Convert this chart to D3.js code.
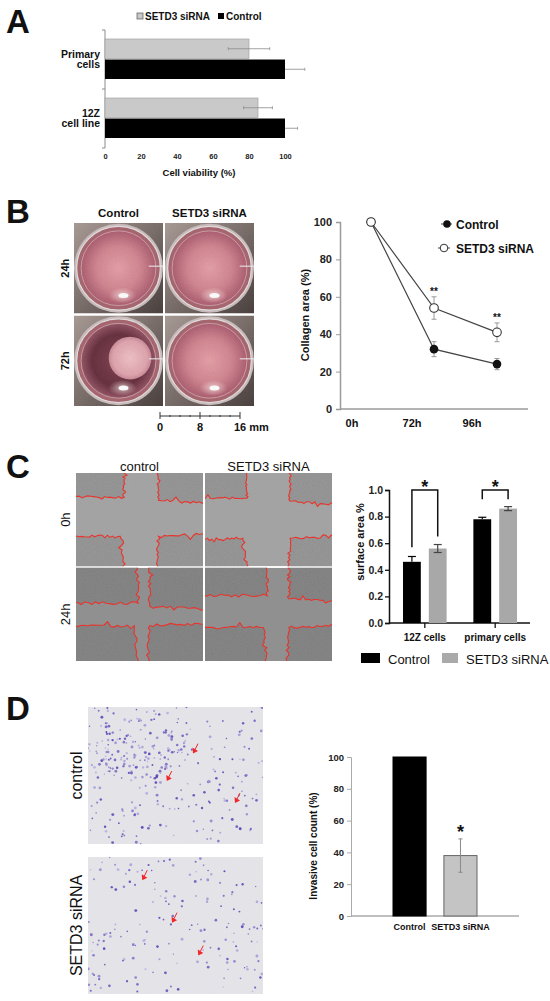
<!DOCTYPE html>
<html>
<head>
<meta charset="utf-8">
<script src="https://cdn.jsdelivr.net/npm/d3@7"></script>
<style>
  body { margin: 0; background: #fff; }
  svg { display: block; }
  text { font-family: "Liberation Sans", Arial, sans-serif; }
</style>
</head>
<body>
<div id="fig"></div>
<script>
// ---- Panel A: cell viability
const viabilityGroups = ["Primary cells", "12Z cell line"];
const viabilitySeries = ["SETD3 siRNA", "Control"];
const viabilitySirna = [80, 85];
const viabilitySirnaErr = [11.5, 8];
const viabilityControl = [100, 100];
const viabilityControlErr = [11, 7];
const viabilityTicks = [0, 20, 40, 60, 80, 100];

// ---- Panel B: collagen contraction
const photoColsB = ["Control", "SETD3 siRNA"];
const photoRowsB = ["24h", "72h"];
const collagenTimes = ["0h", "72h", "96h"];
const collagenControl = [100, 32, 24];
const collagenControlErr = [0, 4, 3];
const collagenSirna = [100, 54, 41];
const collagenSirnaErr = [0, 6, 5];
const collagenSig = ["", "**", "**"];
const collagenTicks = [0, 20, 40, 60, 80, 100];
const scaleBarTicks = [0, 2, 4, 6, 8, 10, 12, 14, 16];

// ---- Panel C: wound healing
const photoColsC = ["control", "SETD3 siRNA"];
const photoRowsC = ["0h", "24h"];
const surfaceGroups = ["12Z cells", "primary cells"];
const surfaceSeries = ["Control", "SETD3 siRNA"];
const surfaceControl = [0.46, 0.78];
const surfaceControlErr = [0.04, 0.015];
const surfaceSirna = [0.56, 0.86];
const surfaceSirnaErr = [0.03, 0.015];
const surfaceTicks = [0, 0.2, 0.4, 0.6, 0.8, 1.0];
const surfaceBracketLegs = [[0.57, 0.65], [0.93, 0.93]];

// ---- Panel D: invasion
const photoRowsD = ["control", "SETD3 siRNA"];
const invasionGroups = ["Control", "SETD3 siRNA"];
const invasionValues = [100, 38];
const invasionErr = [0, 10.5];
const invasionTicks = [0, 20, 40, 60, 80, 100];

const svg = d3.select("#fig").append("svg").attr("width", 550).attr("height", 1001);
const defs = svg.append("defs");

function rng(seed) {
  let s = seed >>> 0;
  return () => {
    s = (Math.imul(s, 1664525) + 1013904223) >>> 0;
    return s / 4294967296;
  };
}

function txt(g, x, y, s, size, weight = "bold", anchor = "start", fill = "#111") {
  return g.append("text")
    .attr("x", x).attr("y", y)
    .attr("font-size", size).attr("font-weight", weight)
    .attr("text-anchor", anchor).attr("fill", fill)
    .text(s);
}

function vtxt(g, x, y, s, size, weight = "bold") {
  return g.append("text")
    .attr("transform", `translate(${x},${y}) rotate(-90)`)
    .attr("font-size", size).attr("font-weight", weight)
    .attr("text-anchor", "middle").attr("fill", "#111")
    .text(s);
}

function styleAxis(g, color, size, weight = "bold") {
  g.select(".domain").attr("stroke", color);
  g.selectAll(".tick line").attr("stroke", color);
  g.selectAll(".tick text")
    .attr("font-size", size).attr("font-weight", weight)
    .attr("fill", "#222").attr("font-family", "'Liberation Sans', Arial, sans-serif");
}

// panel letters
[["A", 33], ["B", 223], ["C", 478], ["D", 720]].forEach(([l, y]) => txt(svg, 6, y, l, 33));

// noise filter for photo texture
const noise = defs.append("filter").attr("id", "noise")
  .attr("x", "0%").attr("y", "0%").attr("width", "100%").attr("height", "100%");
noise.append("feTurbulence").attr("type", "fractalNoise")
  .attr("baseFrequency", 0.9).attr("numOctaves", 3).attr("seed", 7);
noise.append("feColorMatrix").attr("type", "matrix")
  .attr("values", "0.33 0.33 0.33 0 0  0.33 0.33 0.33 0 0  0.33 0.33 0.33 0 0  0 0 0 0 0.4");
noise.append("feComposite").attr("in2", "SourceGraphic").attr("operator", "in");

// ================= Panel A =================
{
  const g = svg.append("g");
  const x = d3.scaleLinear().domain([0, 100]).range([105, 285]);
  const y = d3.scaleBand().domain(viabilityGroups).range([30, 148]);
  const yi = d3.scaleBand().domain(viabilitySeries).range([9, 49]).paddingInner(0.05);
  const bh = yi.bandwidth();

  g.append("line").attr("x1", 105).attr("x2", 105).attr("y1", 30).attr("y2", 148)
    .attr("stroke", "#8c8c8c");
  [...viabilityGroups.map((d) => y(d)), 148].forEach((ty) =>
    g.append("line").attr("x1", 102).attr("x2", 105).attr("y1", ty).attr("y2", ty).attr("stroke", "#8c8c8c"));

  const xa = g.append("g").attr("transform", "translate(0,150)")
    .call(d3.axisBottom(x).tickValues(viabilityTicks).tickSize(0).tickPadding(4));
  xa.select(".domain").remove();
  styleAxis(xa, "#888", 7.5);

  const errBar = (v, e, cy) => {
    g.append("line").attr("x1", x(v - e)).attr("x2", x(Math.min(v + e, 120)))
      .attr("y1", cy).attr("y2", cy).attr("stroke", "#8a8a8a").attr("stroke-width", 0.8);
    [v - e, v + e].forEach((t) =>
      g.append("line").attr("x1", x(t)).attr("x2", x(t)).attr("y1", cy - 1.5).attr("y2", cy + 1.5)
        .attr("stroke", "#8a8a8a").attr("stroke-width", 0.8));
  };

  viabilityGroups.forEach((grp, i) => {
    const ys = y(grp) + yi("SETD3 siRNA");
    const yc = y(grp) + yi("Control");
    g.append("rect").attr("x", x(0)).attr("y", ys).attr("width", x(viabilitySirna[i]) - x(0))
      .attr("height", bh).attr("fill", "#c9c9c9").attr("stroke", "#9a9a9a").attr("stroke-width", 0.6);
    errBar(viabilitySirna[i], viabilitySirnaErr[i], ys + bh / 2);
    errBar(viabilityControl[i], viabilityControlErr[i], yc + bh / 2);
    g.append("rect").attr("x", x(0)).attr("y", yc).attr("width", x(viabilityControl[i]) - x(0))
      .attr("height", bh).attr("fill", "#000");
    const k = grp.indexOf(" ");
    txt(g, 100, y(grp) + 27.5, grp.slice(0, k), 10.5, "bold", "end");
    txt(g, 100, y(grp) + 38, grp.slice(k + 1), 10.5, "bold", "end");
  });

  txt(g, 199, 175.5, "Cell viability (%)", 9.5, "bold", "middle");

  g.append("rect").attr("x", 137).attr("y", 13).attr("width", 6).attr("height", 6)
    .attr("fill", "#c9c9c9").attr("stroke", "#555").attr("stroke-width", 0.7);
  txt(g, 145, 19.5, viabilitySeries[0], 10);
  g.append("rect").attr("x", 218).attr("y", 13).attr("width", 6).attr("height", 6).attr("fill", "#000");
  txt(g, 226, 19.5, viabilitySeries[1], 10);
}

// ================= Panel B =================
{
  const g = svg.append("g");
  const bx = d3.scaleBand().domain(photoColsB).range([74, 254]).paddingInner(0.022);
  const by = d3.scaleBand().domain(photoRowsB).range([223, 406]).paddingInner(0.022);
  const w = bx.bandwidth(), h = by.bandwidth();

  const grad = (id, stops) => {
    const rg = defs.append("radialGradient").attr("id", id);
    stops.forEach(([o, c]) => rg.append("stop").attr("offset", o).attr("stop-color", c));
  };
  grad("pinkLiquid", [["0%", "#e59aa2"], ["60%", "#cf7e8a"], ["100%", "#a85468"]]);
  grad("darkLiquid", [["0%", "#7a3846"], ["70%", "#5e2333"], ["100%", "#8e4a5c"]]);
  grad("gelBlob", [["0%", "#f0bfc4"], ["80%", "#dfa0aa"], ["100%", "#c78491"]]);
  grad("glow", [["0%", "#fff4f0"], ["100%", "rgba(255,220,220,0)"]]);
  const bg = defs.append("linearGradient").attr("id", "wellBg")
    .attr("x1", 0).attr("y1", 0).attr("x2", 1).attr("y2", 1);
  bg.append("stop").attr("offset", "0%").attr("stop-color", "#a59690");
  bg.append("stop").attr("offset", "100%").attr("stop-color", "#3e3331");

  photoRowsB.forEach((row) => {
    photoColsB.forEach((col) => {
      const x0 = bx(col), y0 = by(row);
      const cx = x0 + w / 2, cy = y0 + h / 2;
      const id = `clipB-${row}-${col.length}`;
      defs.append("clipPath").attr("id", id).append("rect")
        .attr("x", x0).attr("y", y0).attr("width", w).attr("height", h);
      const cell = g.append("g").attr("clip-path", `url(#${id})`);
      cell.append("rect").attr("x", x0).attr("y", y0).attr("width", w).attr("height", h).attr("fill", "url(#wellBg)");
      cell.append("circle").attr("cx", cx).attr("cy", cy).attr("r", w * 0.5).attr("fill", "#c8bcbb");
      cell.append("circle").attr("cx", cx).attr("cy", cy).attr("r", w * 0.47)
        .attr("fill", "#a35d68").attr("stroke", "#e6dede").attr("stroke-width", 1.2);
      const gel = row === "72h" && col === "Control";
      cell.append("circle").attr("cx", cx).attr("cy", cy).attr("r", w * 0.42)
        .attr("fill", gel ? "url(#darkLiquid)" : "url(#pinkLiquid)")
        .attr("stroke", "#e9c9cc").attr("stroke-width", 0.8).attr("stroke-opacity", 0.7);
      if (gel) {
        cell.append("circle").attr("cx", cx + w * 0.13).attr("cy", cy - h * 0.03).attr("r", w * 0.24)
          .attr("fill", "url(#gelBlob)");
      }
      cell.append("line").attr("x1", cx + w * 0.34).attr("x2", x0 + w).attr("y1", cy - 2).attr("y2", cy - 2)
        .attr("stroke", "#eee").attr("stroke-width", 1.4).attr("stroke-opacity", 0.7);
      cell.append("ellipse").attr("cx", cx + 4).attr("cy", cy + h * 0.3).attr("rx", 14).attr("ry", 8)
        .attr("fill", "url(#glow)").attr("opacity", 0.7);
      cell.append("ellipse").attr("cx", cx + 5).attr("cy", cy + h * 0.3).attr("rx", 5).attr("ry", 2.5)
        .attr("fill", "#fff");
      cell.append("rect").attr("x", x0).attr("y", y0).attr("width", w).attr("height", h)
        .attr("fill", "#000").attr("filter", "url(#noise)").attr("opacity", 0.25);
    });
  });

  photoColsB.forEach((c) => txt(g, bx(c) + w / 2, 217, c, 11.5, "bold", "middle"));
  photoRowsB.forEach((r) => vtxt(g, 69, by(r) + h / 2, r, 11));

  // scale bar
  const sx = d3.scaleLinear().domain([0, 16]).range([160, 240]);
  g.append("line").attr("x1", sx(0)).attr("x2", sx(16)).attr("y1", 416).attr("y2", 416).attr("stroke", "#333");
  scaleBarTicks.forEach((t) => {
    const big = t % 8 === 0;
    g.append("line").attr("x1", sx(t)).attr("x2", sx(t))
      .attr("y1", big ? 412 : 415).attr("y2", big ? 419 : 417).attr("stroke", "#333");
  });
  txt(g, sx(0), 431, "0", 11, "bold", "middle");
  txt(g, sx(8), 431, "8", 11, "bold", "middle");
  txt(g, sx(16) - 6, 431, "16 mm", 11, "bold", "start");

  // line chart
  const ly = d3.scaleLinear().domain([0, 100]).range([409, 222]);
  const lx = d3.scalePoint().domain(collagenTimes).range([371, 497]);
  const lxLabel = d3.scalePoint().domain(collagenTimes).range([352, 472]);

  const ya = g.append("g").attr("transform", "translate(340,0)")
    .call(d3.axisLeft(ly).tickValues(collagenTicks).tickSize(4).tickPadding(4));
  styleAxis(ya, "#9a9a9a", 11);
  ya.select(".domain").attr("stroke-width", 1.5);
  g.append("line").attr("x1", 340).attr("x2", 528).attr("y1", ly(0)).attr("y2", ly(0))
    .attr("stroke", "#9a9a9a").attr("stroke-width", 1.5);
  collagenTimes.forEach((t) => txt(g, lxLabel(t), 427, t, 11, "bold", "middle"));
  vtxt(g, 309, 315, "Collagen area (%)", 11);

  const line = d3.line().x((d, i) => lx(collagenTimes[i])).y((d) => ly(d));
  const errs = (vals, errsArr) => vals.forEach((v, i) => {
    if (!errsArr[i]) return;
    const xc = lx(collagenTimes[i]);
    g.append("line").attr("x1", xc).attr("x2", xc).attr("y1", ly(v - errsArr[i])).attr("y2", ly(v + errsArr[i]))
      .attr("stroke", "#9a9a9a").attr("stroke-width", 1);
    [v - errsArr[i], v + errsArr[i]].forEach((e) =>
      g.append("line").attr("x1", xc - 2.5).attr("x2", xc + 2.5).attr("y1", ly(e)).attr("y2", ly(e))
        .attr("stroke", "#9a9a9a").attr("stroke-width", 1));
  });
  errs(collagenControl, collagenControlErr);
  errs(collagenSirna, collagenSirnaErr);
  g.append("path").datum(collagenControl).attr("d", line).attr("fill", "none").attr("stroke", "#444").attr("stroke-width", 1.2);
  g.append("path").datum(collagenSirna).attr("d", line).attr("fill", "none").attr("stroke", "#444").attr("stroke-width", 1.2);
  collagenControl.forEach((v, i) =>
    g.append("circle").attr("cx", lx(collagenTimes[i])).attr("cy", ly(v)).attr("r", 4.3).attr("fill", "#111"));
  collagenSirna.forEach((v, i) =>
    g.append("circle").attr("cx", lx(collagenTimes[i])).attr("cy", ly(v)).attr("r", 4.3)
      .attr("fill", "#fff").attr("stroke", "#333").attr("stroke-width", 1.1));
  collagenSig.forEach((s, i) => {
    if (s) txt(g, lx(collagenTimes[i]), ly(collagenSirna[i] + collagenSirnaErr[i]) - 2, s, 10, "bold", "middle");
  });

  // legend
  g.append("line").attr("x1", 441).attr("x2", 452).attr("y1", 224).attr("y2", 224).attr("stroke", "#444");
  g.append("circle").attr("cx", 447).attr("cy", 224).attr("r", 3.8).attr("fill", "#111");
  txt(g, 456, 228.5, "Control", 12);
  g.append("line").attr("x1", 438).attr("x2", 450).attr("y1", 248).attr("y2", 248).attr("stroke", "#444");
  g.append("circle").attr("cx", 444).attr("cy", 248).attr("r", 3.8).attr("fill", "#fff").attr("stroke", "#333");
  txt(g, 456, 252.5, "SETD3 siRNA", 12);
}

// ================= Panel C =================
{
  const g = svg.append("g");
  const px = d3.scaleBand().domain(photoColsC).range([76, 332]).paddingInner(0.016);
  const py = d3.scaleBand().domain(photoRowsC).range([473, 661]).paddingInner(0.016);
  const w = px.bandwidth(), h = py.bandwidth();

  // wound gap edges as fractions of each photo (left, right, top, bottom)
  const woundShape = {
    "0h|control": [0.38, 0.65, 0.26, 0.68],
    "0h|SETD3 siRNA": [0.33, 0.67, 0.27, 0.70],
    "24h|control": [0.49, 0.58, 0.38, 0.62],
    "24h|SETD3 siRNA": [0.49, 0.66, 0.30, 0.64],
  };

  photoRowsC.forEach((row, ri) => {
    photoColsC.forEach((col, ci) => {
      const x0 = px(col), y0 = py(row);
      const [fl, fr, ft, fb] = woundShape[`${row}|${col}`];
      const r = rng(11 + ri * 7 + ci * 3);
      const jag = (a) => (r() - 0.5) * a + (r() < 0.1 ? (r() - 0.5) * a * 2.5 : 0);
      const id = `clipC-${ri}-${ci}`;
      defs.append("clipPath").attr("id", id).append("rect")
        .attr("x", x0).attr("y", y0).attr("width", w).attr("height", h);
      const cell = g.append("g").attr("clip-path", `url(#${id})`);
      const dark = ri === 1;
      cell.append("rect").attr("x", x0).attr("y", y0).attr("width", w).attr("height", h)
        .attr("fill", dark ? "#8e8e8e" : "#a2a2a2");
      cell.append("rect").attr("x", x0).attr("y", y0).attr("width", w).attr("height", h)
        .attr("fill", "#000").attr("filter", "url(#noise)").attr("opacity", 0.12);

      const xl = x0 + fl * w, xr = x0 + fr * w, yt = y0 + ft * h, yb = y0 + fb * h;
      const seg = (ax, ay, bx2, by2, n) => d3.range(n + 1).map((k) => {
        const t = k / n;
        const vert = Math.abs(bx2 - ax) < Math.abs(by2 - ay);
        const jx = vert && k > 0 && k < n ? jag(3) : 0;
        const jy = !vert && k > 0 && k < n ? jag(3) : 0;
        return [ax + (bx2 - ax) * t + jx, ay + (by2 - ay) * t + jy];
      });
      const corners = [
        { edge: [...seg(xl, y0 - 2, xl, yt, 18), ...seg(xl, yt, x0 - 2, yt, 18).slice(1)], corner: [x0 - 2, y0 - 2] },
        { edge: [...seg(xr, y0 - 2, xr, yt + 3, 18), ...seg(xr, yt + 3, x0 + w + 2, yt + 6, 16).slice(1)], corner: [x0 + w + 2, y0 - 2] },
        { edge: [...seg(x0 - 2, yb, xl - 4, yb, 18), ...seg(xl - 4, yb, xl, y0 + h + 2, 14).slice(1)], corner: [x0 - 2, y0 + h + 2] },
        { edge: [...seg(xr - 2, y0 + h + 2, xr, yb, 14), ...seg(xr, yb, x0 + w + 2, yb - 2, 16).slice(1)], corner: [x0 + w + 2, y0 + h + 2] },
      ];
      corners.forEach(({ edge, corner }) => {
        const poly = [...edge, corner];
        cell.append("path").attr("d", "M" + poly.join("L") + "Z").attr("fill", dark ? "#7a7a7a" : "#8e8e8e");
        cell.append("path").attr("d", "M" + poly.join("L") + "Z").attr("fill", "#000")
          .attr("filter", "url(#noise)").attr("opacity", 0.35);
        cell.append("path").attr("d", d3.line()(edge)).attr("fill", "none")
          .attr("stroke", "#e8342c").attr("stroke-width", 1.1);
      });
    });
  });

  photoColsC.forEach((c) => txt(g, px(c) + w / 2, 471, c, 13, "normal", "middle"));
  photoRowsC.forEach((r) => vtxt(g, 70, py(r) + h / 2, r, 13, "normal"));

  // bar chart
  const sy = d3.scaleLinear().domain([0, 1]).range([623, 490]);
  const sx = d3.scaleBand().domain(surfaceGroups).range([403, 517]).paddingInner(0.38);
  const sxi = d3.scaleBand().domain(surfaceSeries).range([0, sx.bandwidth()]).paddingInner(0.31);
  const bw = sxi.bandwidth();

  const ya = g.append("g").attr("transform", "translate(389,0)")
    .call(d3.axisLeft(sy).tickValues(surfaceTicks).tickFormat(d3.format(".1f")).tickSize(4).tickPadding(2));
  styleAxis(ya, "#111", 10.5);
  ya.select(".domain").attr("stroke-width", 1.5);
  ya.selectAll(".tick line").attr("stroke-width", 1.3);
  g.append("line").attr("x1", 389).attr("x2", 530).attr("y1", sy(0)).attr("y2", sy(0))
    .attr("stroke", "#111").attr("stroke-width", 1.5);
  surfaceGroups.forEach((grp) => {
    const c = sx(grp) + sx.bandwidth() / 2;
    g.append("line").attr("x1", c).attr("x2", c).attr("y1", sy(0)).attr("y2", sy(0) + 5)
      .attr("stroke", "#111").attr("stroke-width", 1.3);
    txt(g, c, 641, grp, 10, "bold", "middle");
  });
  vtxt(g, 364, 542, "surface area %", 11);

  const cap = (xc, yv, color) =>
    g.append("line").attr("x1", xc - 4).attr("x2", xc + 4).attr("y1", sy(yv)).attr("y2", sy(yv))
      .attr("stroke", color).attr("stroke-width", 1.2);

  surfaceGroups.forEach((grp, i) => {
    const xc = sx(grp) + sxi("Control");
    const xs = sx(grp) + sxi("SETD3 siRNA");
    g.append("rect").attr("x", xc).attr("y", sy(surfaceControl[i])).attr("width", bw)
      .attr("height", sy(0) - sy(surfaceControl[i])).attr("fill", "#000");
    g.append("rect").attr("x", xs).attr("y", sy(surfaceSirna[i])).attr("width", bw)
      .attr("height", sy(0) - sy(surfaceSirna[i])).attr("fill", "#a8a8a8");
    const mc = xc + bw / 2, ms = xs + bw / 2;
    g.append("line").attr("x1", mc).attr("x2", mc).attr("y1", sy(surfaceControl[i]))
      .attr("y2", sy(surfaceControl[i] + surfaceControlErr[i])).attr("stroke", "#000").attr("stroke-width", 1.2);
    cap(mc, surfaceControl[i] + surfaceControlErr[i], "#000");
    g.append("line").attr("x1", ms).attr("x2", ms).attr("y1", sy(surfaceSirna[i] - surfaceSirnaErr[i]))
      .attr("y2", sy(surfaceSirna[i] + surfaceSirnaErr[i])).attr("stroke", "#444").attr("stroke-width", 1.2);
    cap(ms, surfaceSirna[i] + surfaceSirnaErr[i], "#444");
    cap(ms, surfaceSirna[i] - surfaceSirnaErr[i], "#444");
    const [l1, l2] = surfaceBracketLegs[i];
    g.append("path").attr("d", `M${mc},${sy(l1)}V${sy(1)}H${ms}V${sy(l2)}`)
      .attr("fill", "none").attr("stroke", "#111").attr("stroke-width", 1.5);
    txt(g, (mc + ms) / 2, sy(1) + 3, "*", 18, "bold", "middle");
  });

  // legend
  g.append("rect").attr("x", 361).attr("y", 653).attr("width", 19).attr("height", 10).attr("fill", "#000");
  txt(g, 388, 664, surfaceSeries[0], 13, "normal");
  g.append("rect").attr("x", 442).attr("y", 653).attr("width", 16).attr("height", 10).attr("fill", "#aaa");
  txt(g, 466, 664, surfaceSeries[1], 13, "normal");
}

// ================= Panel D =================
{
  const g = svg.append("g");
  const py = d3.scaleBand().domain(photoRowsD).range([707, 994]).paddingInner(0.085);
  const x0 = 88, w = 175, h = py.bandwidth();
  // red arrow tips as fractions of each photo
  const arrowTips = {
    control: [[0.60, 0.34], [0.45, 0.54], [0.84, 0.70]],
    "SETD3 siRNA": [[0.31, 0.17], [0.48, 0.48], [0.63, 0.72]],
  };

  photoRowsD.forEach((row, ri) => {
    const y0 = py(row);
    const id = `clipD-${ri}`;
    defs.append("clipPath").attr("id", id).append("rect")
      .attr("x", x0).attr("y", y0).attr("width", w).attr("height", h);
    const cell = g.append("g").attr("clip-path", `url(#${id})`);
    cell.append("rect").attr("x", x0).attr("y", y0).attr("width", w).attr("height", h).attr("fill", "#e6e6ea");
    cell.append("rect").attr("x", x0).attr("y", y0).attr("width", w).attr("height", h)
      .attr("fill", "#000").attr("filter", "url(#noise)").attr("opacity", 0.07);
    const r = rng(101 + ri * 17);
    const col = d3.interpolateRgb("#b8b0e0", "#4f34b0");
    const dots = [];
    const nUniform = ri === 0 ? 210 : 170;
    for (let k = 0; k < nUniform; k++) dots.push([x0 + r() * w, y0 + r() * h]);
    if (ri === 0) {
      for (let k = 0; k < 110; k++) {
        const a = r() * Math.PI * 2, d = Math.sqrt(r()) * 40;
        dots.push([x0 + 48 + Math.cos(a) * d * 1.3, y0 + 42 + Math.sin(a) * d * 0.8]);
      }
    }
    dots.forEach(([dx, dy]) =>
      cell.append("circle").attr("cx", dx).attr("cy", dy).attr("r", 0.7 + r() * 0.8)
        .attr("fill", col(r())).attr("opacity", 0.85));
    arrowTips[row].forEach(([fx, fy]) => {
      const ax = x0 + fx * w, ay = y0 + fy * h;
      cell.append("path").attr("d", `M${ax},${ay}L${ax - 0.5},${ay - 6}L${ax + 5},${ay - 2.5}Z`).attr("fill", "#f0262a");
      cell.append("line").attr("x1", ax + 2).attr("y1", ay - 4).attr("x2", ax + 5).attr("y2", ay - 10)
        .attr("stroke", "#f0262a").attr("stroke-width", 1);
    });
    vtxt(g, 82, y0 + h / 2, row, 16, "normal");
  });

  const iy = d3.scaleLinear().domain([0, 100]).range([916, 757]);
  const ix = d3.scaleBand().domain(invasionGroups).range([393, 477]).paddingInner(0.35);
  const ya = g.append("g").attr("transform", "translate(351,0)")
    .call(d3.axisLeft(iy).tickValues(invasionTicks).tickSize(4).tickPadding(3));
  styleAxis(ya, "#aaa", 9.5);
  g.append("line").attr("x1", 351).attr("x2", 519).attr("y1", iy(0)).attr("y2", iy(0))
    .attr("stroke", "#aaa").attr("stroke-width", 1.5);
  vtxt(g, 317, 846, "Invasive cell count (%)", 10);

  invasionGroups.forEach((grp, i) => {
    const v = invasionValues[i];
    g.append("rect").attr("x", ix(grp)).attr("y", iy(v)).attr("width", ix.bandwidth())
      .attr("height", iy(0) - iy(v)).attr("fill", i === 0 ? "#000" : "#c4c4c4")
      .attr("stroke", i === 0 ? "#000" : "#666").attr("stroke-width", 1);
    const c = ix(grp) + ix.bandwidth() / 2;
    if (invasionErr[i]) {
      g.append("line").attr("x1", c).attr("x2", c).attr("y1", iy(v - invasionErr[i])).attr("y2", iy(v + invasionErr[i]))
        .attr("stroke", "#888").attr("stroke-width", 1);
      [v - invasionErr[i], v + invasionErr[i]].forEach((e) =>
        g.append("line").attr("x1", c - 2).attr("x2", c + 2).attr("y1", iy(e)).attr("y2", iy(e)).attr("stroke", "#888"));
      txt(g, c, iy(v + invasionErr[i]) - 1, "*", 18, "bold", "middle");
    }
    txt(g, c, 930, grp, 9, "bold", "middle");
  });
}
</script>
</body>
</html>
